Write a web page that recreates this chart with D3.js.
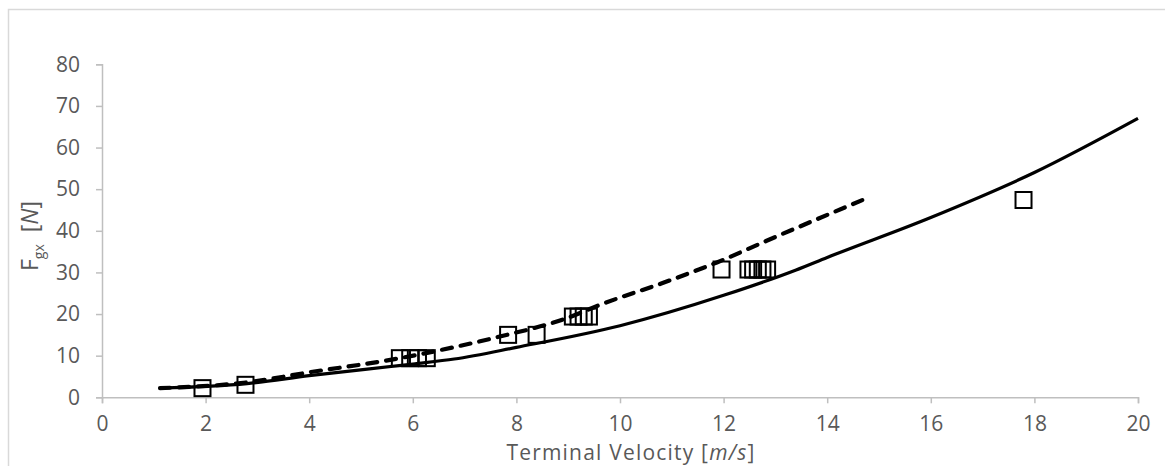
<!DOCTYPE html>
<html>
<head>
<meta charset="utf-8">
<script src="https://cdn.jsdelivr.net/npm/d3@7"></script>
<style>
  html, body { margin: 0; padding: 0; background: #fff; }
  svg { display: block; }
  text { font-family: "Open Sans", "Noto Sans", sans-serif; fill: #595959; }
</style>
</head>
<body>
<svg id="chart" width="1165" height="466"></svg>
<script>
// Measured drag force vs. terminal velocity
const measVel   = [1.94, 2.77, 5.75, 5.95, 6.1, 6.27, 7.84, 8.39, 9.09, 9.2, 9.3, 9.4,
                   11.96, 12.48, 12.57, 12.66, 12.75, 12.84, 17.79];
const measForce = [2.2, 3.0, 9.4, 9.4, 9.4, 9.4, 15.0, 15.0, 19.4, 19.4, 19.4, 19.4,
                   30.7, 30.7, 30.7, 30.7, 30.7, 30.7, 47.4];

// Model curve (solid)
const modelVel   = [1.12, 2.8, 4.0, 6.0, 6.8, 8.0, 10.0, 12.0, 13.4, 14.0, 16.0, 18.0, 20.0];
const modelForce = [2.2, 3.3, 5.2, 8.0, 9.2, 12.0, 17.2, 24.5, 30.6, 33.6, 43.2, 54.0, 67.0];

// Fitted curve (dashed)
const fitVel   = [1.12, 2.8, 4.0, 5.75, 6.4, 7.68, 8.97, 9.61, 10.9, 11.87, 12.83, 14.7];
const fitForce = [2.2, 3.6, 6.0, 9.4, 11.0, 14.6, 19.0, 22.2, 27.8, 32.4, 37.6, 47.5];

const xTicks = [0, 2, 4, 6, 8, 10, 12, 14, 16, 18, 20];
const yTicks = [0, 10, 20, 30, 40, 50, 60, 70, 80];

const svg = d3.select("#chart");
const axisColor = "#bfbfbf";

// chart frame
svg.append("rect")
  .attr("x", 8.5).attr("y", 9.5)
  .attr("width", 1200).attr("height", 500)
  .attr("fill", "none").attr("stroke", "#d9d9d9").attr("stroke-width", 1.5);

const x = d3.scaleLinear().domain([0, 20]).range([102, 1138]);
const y = d3.scaleLinear().domain([0, 80]).range([397.3, 64.3]);

// x axis
const xAxis = svg.append("g")
  .attr("transform", `translate(0,${y(0)})`)
  .call(d3.axisBottom(x).tickValues(xTicks).tickSize(6).tickPadding(13).tickFormat(d3.format("d")));
// y axis
const yAxis = svg.append("g")
  .attr("transform", `translate(${x(0)},0)`)
  .call(d3.axisLeft(y).tickValues(yTicks).tickSize(6).tickPadding(16).tickFormat(d3.format("d")));

[xAxis, yAxis].forEach(g => {
  g.select(".domain").attr("stroke", axisColor).attr("stroke-width", 1.5);
  g.selectAll(".tick line").attr("stroke", axisColor).attr("stroke-width", 1.5);
  g.selectAll(".tick text").attr("fill", "#595959").style("font-size", "21px");
});

const line = d3.line().x(d => x(d[0])).y(d => y(d[1])).curve(d3.curveMonotoneX);

// model curve
svg.append("path")
  .datum(d3.zip(modelVel, modelForce))
  .attr("d", line)
  .attr("fill", "none").attr("stroke", "#000").attr("stroke-width", 3.2);

// fitted curve
svg.append("path")
  .datum(d3.zip(fitVel, fitForce))
  .attr("d", line)
  .attr("fill", "none").attr("stroke", "#000").attr("stroke-width", 4.2)
  .attr("stroke-dasharray", "10,9").attr("stroke-linecap", "round");

// measurements
const s = 16;
svg.append("g").selectAll("rect")
  .data(d3.zip(measVel, measForce))
  .join("rect")
  .attr("x", d => x(d[0]) - s / 2)
  .attr("y", d => y(d[1]) - s / 2)
  .attr("width", s).attr("height", s)
  .attr("fill", "none").attr("stroke", "#000").attr("stroke-width", 2);

// axis titles
svg.append("text")
  .attr("x", 631).attr("y", 459.5)
  .attr("text-anchor", "middle").style("font-size", "21px")
  .style("letter-spacing", "1.2px")
  .call(t => {
    t.append("tspan").text("Terminal Velocity [");
    t.append("tspan").style("font-style", "italic").text("m/s");
    t.append("tspan").text("]");
  });

svg.append("text")
  .attr("transform", "translate(38,236) rotate(-90)")
  .attr("text-anchor", "middle").style("font-size", "23px")
  .call(t => {
    t.append("tspan").text("F");
    t.append("tspan").attr("dy", 6).style("font-size", "14px").text("gx");
    t.append("tspan").attr("dy", -6).text("\u00a0\u00a0[");
    t.append("tspan").style("font-style", "italic").text("N");
    t.append("tspan").text("]");
  });
</script>
</body>
</html>
